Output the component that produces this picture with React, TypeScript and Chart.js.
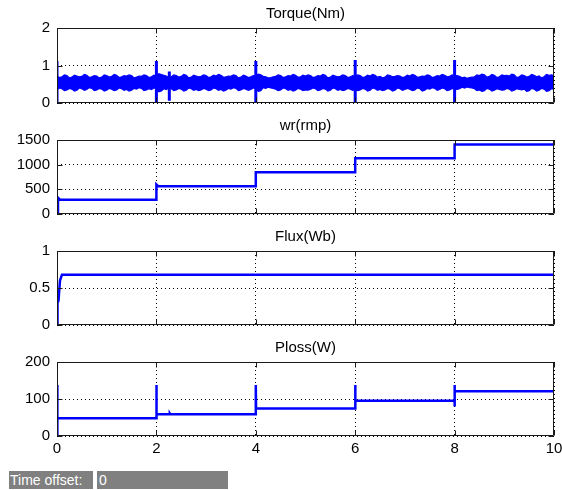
import React, { useEffect, useRef } from "react";
import { Chart, registerables } from "chart.js";

Chart.register(...registerables);

const FONT = '"Liberation Sans", Arial, Helvetica, sans-serif';
const BLUE = "#0000ff";

// ---------- Data ----------
const TORQUE_DT = 0.05;
const torqueUpper = [
  0.72,
  0.68, 0.70, 0.75, 0.73, 0.67, 0.69, 0.74, 0.72, 0.70, 0.71, 0.76, 0.74, 0.68, 0.70, 0.73, 0.72, 0.67, 0.69, 0.75, 0.73,
  0.69, 0.71, 0.76, 0.74, 0.68, 0.70, 0.73, 0.72, 0.75, 0.73, 0.67, 0.69, 0.72, 0.71, 0.75, 0.73, 0.68, 0.70, 0.74, 0.72,
  0.78, 0.76, 0.74, 0.72, 0.68, 0.70, 0.75, 0.73, 0.69, 0.71, 0.76, 0.74, 0.67, 0.69, 0.74, 0.72, 0.70, 0.71, 0.75, 0.73,
  0.68, 0.70, 0.74, 0.72, 0.76, 0.74, 0.69, 0.70, 0.72, 0.71, 0.75, 0.73, 0.67, 0.69, 0.74, 0.72, 0.68, 0.70, 0.73, 0.72,
  0.77, 0.75, 0.71, 0.70, 0.67, 0.68, 0.70, 0.71, 0.75, 0.73, 0.68, 0.70, 0.73, 0.72, 0.76, 0.74, 0.69, 0.70, 0.74, 0.72,
  0.75, 0.73, 0.68, 0.70, 0.73, 0.72, 0.76, 0.74, 0.67, 0.69, 0.74, 0.72, 0.70, 0.71, 0.75, 0.73, 0.68, 0.70, 0.73, 0.72,
  0.75, 0.73, 0.68, 0.70, 0.74, 0.72, 0.76, 0.74, 0.69, 0.71, 0.67, 0.69, 0.75, 0.73, 0.70, 0.71, 0.73, 0.72, 0.68, 0.70,
  0.74, 0.72, 0.76, 0.74, 0.69, 0.70, 0.72, 0.71, 0.75, 0.73, 0.68, 0.70, 0.73, 0.72, 0.76, 0.74, 0.70, 0.71, 0.75, 0.73,
  0.73, 0.71, 0.67, 0.69, 0.66, 0.68, 0.69, 0.70, 0.75, 0.73, 0.77, 0.75, 0.69, 0.71, 0.76, 0.74, 0.68, 0.70, 0.75, 0.73,
  0.74, 0.72, 0.77, 0.75, 0.68, 0.70, 0.75, 0.73, 0.69, 0.71, 0.76, 0.74, 0.70, 0.72, 0.67, 0.70, 0.76, 0.74, 0.75, 0.73,
];
const torqueLower = [
  0.36,
  0.40, 0.38, 0.33, 0.35, 0.39, 0.37, 0.32, 0.34, 0.40, 0.38, 0.34, 0.36, 0.41, 0.39, 0.33, 0.35, 0.39, 0.37, 0.32, 0.34,
  0.39, 0.37, 0.33, 0.35, 0.40, 0.38, 0.34, 0.36, 0.32, 0.34, 0.39, 0.37, 0.41, 0.39, 0.33, 0.35, 0.38, 0.36, 0.40, 0.38,
  0.30, 0.32, 0.38, 0.36, 0.40, 0.38, 0.33, 0.35, 0.39, 0.37, 0.32, 0.34, 0.40, 0.38, 0.34, 0.36, 0.33, 0.35, 0.39, 0.37,
  0.33, 0.35, 0.40, 0.38, 0.34, 0.36, 0.32, 0.34, 0.39, 0.37, 0.41, 0.39, 0.33, 0.35, 0.39, 0.37, 0.34, 0.36, 0.40, 0.38,
  0.31, 0.33, 0.41, 0.39, 0.42, 0.40, 0.39, 0.37, 0.33, 0.35, 0.40, 0.38, 0.34, 0.36, 0.32, 0.34, 0.39, 0.37, 0.33, 0.35,
  0.34, 0.36, 0.40, 0.38, 0.33, 0.35, 0.39, 0.37, 0.32, 0.34, 0.40, 0.38, 0.34, 0.36, 0.33, 0.35, 0.39, 0.37, 0.34, 0.36,
  0.33, 0.35, 0.39, 0.37, 0.32, 0.34, 0.40, 0.38, 0.34, 0.36, 0.33, 0.35, 0.39, 0.37, 0.32, 0.34, 0.40, 0.38, 0.34, 0.36,
  0.39, 0.37, 0.33, 0.35, 0.40, 0.38, 0.32, 0.34, 0.39, 0.37, 0.41, 0.39, 0.34, 0.36, 0.40, 0.38, 0.33, 0.35, 0.39, 0.37,
  0.36, 0.38, 0.42, 0.40, 0.43, 0.41, 0.40, 0.38, 0.33, 0.35, 0.31, 0.33, 0.39, 0.37, 0.32, 0.34, 0.38, 0.36, 0.34, 0.35,
  0.39, 0.37, 0.32, 0.34, 0.38, 0.36, 0.35, 0.37, 0.31, 0.33, 0.39, 0.37, 0.32, 0.34, 0.39, 0.37, 0.31, 0.33, 0.38, 0.36,
];
const torqueSpikeTimes = [0, 2, 2.26, 4, 6, 8];
const torqueSpikeHigh = [1.12, 1.12, 0.84, 1.12, 1.15, 1.15];
const torqueSpikeLow = [0, 0, 0.06, 0, 0, 0];

const wrTimes = [0, 0.02, 0.06, 2, 2, 2.04, 4, 4, 6, 6, 8, 8, 10];
const wrValues = [0, 330, 290, 290, 600, 560, 560, 845, 845, 1130, 1130, 1410, 1410];

const fluxTimes = [0, 0.01, 0.03, 0.06, 0.1, 10];
const fluxValues = [0, 0.3, 0.33, 0.6, 0.68, 0.68];

const plossTimes = [0, 0.005, 0.01, 2, 2, 2.005, 2.26, 2.27, 2.28, 4, 4, 4.005, 6, 6, 6.005, 8, 8, 8, 8.005, 10];
const plossValues = [0, 138, 48, 48, 138, 59, 59, 61, 59, 59, 138, 74, 74, 138, 95, 95, 80, 138, 121, 121];

const xTickLabels = ["0", "2", "4", "6", "8", "10"];

// ---------- helpers ----------
const pts = (xs: number[], ys: number[]) => xs.map((x, i) => ({ x, y: ys[i] }));

const boxPlugin = {
  id: "matlabBox",
  afterDatasetsDraw(chart: any) {
    const { ctx, chartArea: a, scales } = chart;
    const L = Math.round(a.left) + 0.5;
    const R = Math.round(a.right) - 0.5;
    const T = Math.round(a.top) + 0.5;
    const B = Math.round(a.bottom) - 0.5;
    ctx.save();
    ctx.setLineDash([]);
    ctx.strokeStyle = "#1a1a1a";
    ctx.lineWidth = 1;
    ctx.beginPath();
    ctx.rect(L, T, R - L, B - T);
    const tl = 5;
    scales.x.ticks.forEach((t: any) => {
      const px = Math.round(scales.x.getPixelForValue(t.value)) + 0.5;
      ctx.moveTo(px, B);
      ctx.lineTo(px, B - tl);
      ctx.moveTo(px, T);
      ctx.lineTo(px, T + tl);
    });
    scales.y.ticks.forEach((t: any) => {
      const py = Math.round(scales.y.getPixelForValue(t.value)) + 0.5;
      ctx.moveTo(L, py);
      ctx.lineTo(L + tl, py);
      ctx.moveTo(R, py);
      ctx.lineTo(R - tl, py);
    });
    ctx.stroke();
    ctx.restore();
  },
};

type PlotProps = {
  plotTop: number;
  plotHeight: number;
  bottomSpace: number;
  title: string;
  yMax: number;
  yStep: number;
  showX: boolean;
  datasets: any[];
};

const TITLE_H = 28;

function Plot(p: PlotProps) {
  const ref = useRef<HTMLCanvasElement>(null);
  const h = TITLE_H + p.plotHeight + p.bottomSpace;
  useEffect(() => {
    const tickFont = { family: FONT, size: 15 };
    const chart = new Chart(ref.current as HTMLCanvasElement, {
      type: "line",
      data: { datasets: p.datasets },
      options: {
        animation: false,
        responsive: false,
        maintainAspectRatio: false,
        layout: { padding: { left: 0, right: 8, top: 0, bottom: 0 } },
        elements: { point: { radius: 0 }, line: { tension: 0 } },
        plugins: {
          legend: { display: false },
          tooltip: { enabled: false },
          title: {
            display: true,
            text: p.title,
            fullSize: false,
            color: "#000",
            font: { family: FONT, size: 15, weight: "normal" },
            padding: { top: 5, bottom: 5 },
          },
        },
        scales: {
          x: {
            type: "linear",
            min: 0,
            max: 10,
            ticks: {
              stepSize: 2,
              display: p.showX,
              color: "#000",
              font: tickFont,
              padding: 4,
              maxRotation: 0,
              callback: (v: any) => xTickLabels[Math.round(Number(v) / 2)] ?? String(v),
            },
            grid: { color: "#000", lineWidth: 1, drawTicks: false },
            border: { display: false, dash: [1, 3] },
            afterFit: (s: any) => {
              s.height = p.bottomSpace;
              s.paddingLeft = 0;
              s.paddingRight = 0;
            },
          },
          y: {
            type: "linear",
            min: 0,
            max: p.yMax,
            ticks: {
              stepSize: p.yStep,
              color: "#000",
              font: tickFont,
              padding: 7,
              callback: (v: any) => String(v),
            },
            grid: { color: "#000", lineWidth: 1, drawTicks: false },
            border: { display: false, dash: [1, 3] },
            afterFit: (s: any) => {
              s.width = 57;
              s.paddingTop = 0;
              s.paddingBottom = 0;
            },
          },
        },
      } as any,
      plugins: [boxPlugin],
    });
    return () => chart.destroy();
  }, []);
  return (
    <canvas
      ref={ref}
      width={562}
      height={h}
      style={{ position: "absolute", left: 0, top: p.plotTop - TITLE_H, width: 562, height: h }}
    />
  );
}

const lineDs = (data: any[], width: number) => ({
  data,
  borderColor: BLUE,
  backgroundColor: BLUE,
  borderWidth: width,
  pointRadius: 0,
  fill: false,
  clip: 0,
  spanGaps: false,
});

export default function App() {
  const tTimes = torqueUpper.map((_, i) => Math.round(i * TORQUE_DT * 100) / 100);
  const spikePts: any[] = [];
  torqueSpikeTimes.forEach((t, i) => {
    spikePts.push({ x: t, y: torqueSpikeLow[i] });
    spikePts.push({ x: t, y: torqueSpikeHigh[i] });
    spikePts.push({ x: t, y: null });
  });
  const torqueSets = [
    { ...lineDs(pts(tTimes, torqueUpper), 1.2), fill: "+1" },
    lineDs(pts(tTimes, torqueLower), 1.2),
    lineDs(spikePts, 3),
  ];
  return (
    <div style={{ position: "fixed", left: 0, top: 0, width: 562, height: 490, background: "#fff", overflow: "hidden" }}>
      <Plot plotTop={28} plotHeight={75} bottomSpace={4} title="Torque(Nm)" yMax={2} yStep={1} showX={false} datasets={torqueSets} />
      <Plot plotTop={140} plotHeight={74} bottomSpace={4} title="wr(rmp)" yMax={1500} yStep={500} showX={false} datasets={[lineDs(pts(wrTimes, wrValues), 2.5)]} />
      <Plot plotTop={251} plotHeight={74} bottomSpace={4} title="Flux(Wb)" yMax={1} yStep={0.5} showX={false} datasets={[lineDs(pts(fluxTimes, fluxValues), 2.5)]} />
      <Plot plotTop={362} plotHeight={74} bottomSpace={30} title="Ploss(W)" yMax={200} yStep={100} showX={true} datasets={[lineDs(pts(plossTimes, plossValues), 2.5)]} />
      <div style={{ position: "absolute", left: 9, top: 471, width: 84, height: 18, background: "#808080", color: "#fff", font: `14px ${FONT}`, lineHeight: "18px", paddingLeft: 1, boxSizing: "border-box", whiteSpace: "nowrap" }}>
        Time offset:
      </div>
      <div style={{ position: "absolute", left: 97, top: 471, width: 131, height: 18, background: "#808080", color: "#fff", font: `14px ${FONT}`, lineHeight: "18px", paddingLeft: 2, boxSizing: "border-box" }}>
        0
      </div>
    </div>
  );
}
